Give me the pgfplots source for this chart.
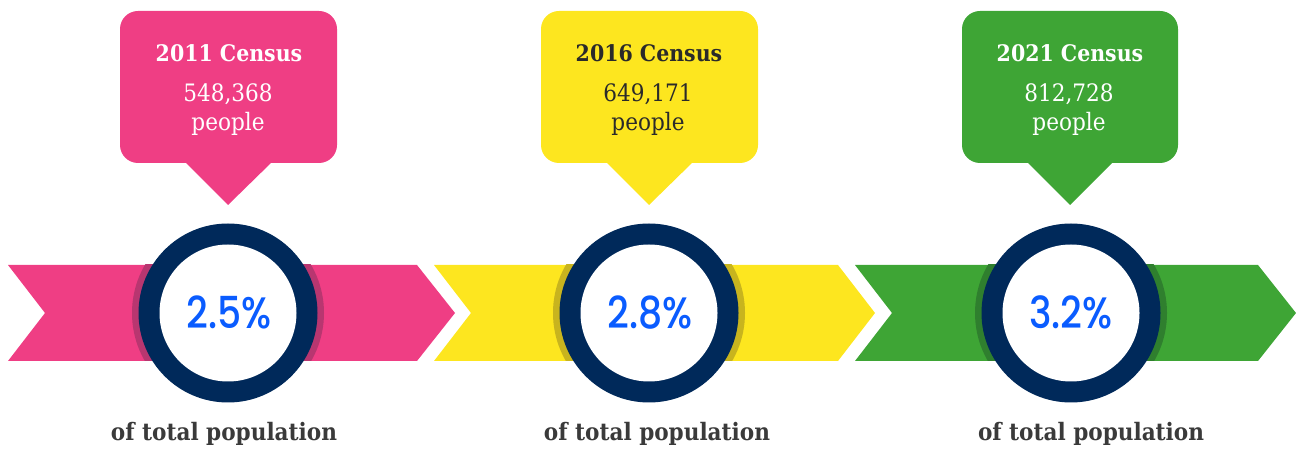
\documentclass[border=0pt]{standalone}
\usepackage{pgfplots}
\pgfplotsset{compat=1.18}
\usepackage{pgfplotstable}
\usepackage{fontspec}
\setmainfont{DejaVu Serif Condensed}
\newfontfamily\slab{DejaVu Serif Condensed}
\newfontfamily\pop{Poppins Medium}
\definecolor{cpink}{HTML}{EF3E84}
\definecolor{cpinkd}{HTML}{B83670}
\definecolor{cyel}{HTML}{FDE61F}
\definecolor{cyeld}{HTML}{C8B41E}
\definecolor{cgrn}{HTML}{3EA535}
\definecolor{cgrnd}{HTML}{2F7F2E}
\definecolor{cnavy}{HTML}{00295A}
\definecolor{cblue}{HTML}{0A5CFF}
\definecolor{cdark}{HTML}{2A2A2A}
\definecolor{cgray}{HTML}{3A3A3A}

\pgfplotstableread{
x    y    pct
229  329  2.5\%
650  329  2.8\%
1071 329  3.2\%
}\pcttable

\begin{document}
\begin{tikzpicture}
\begin{axis}[
  x=0.5pt, y=0.5pt, y dir=reverse,
  xmin=0, xmax=1296, ymin=0, ymax=448,
  hide axis, clip=false, enlargelimits=false,
]
\path (axis cs:0,0) rectangle (axis cs:1296,448);
% ---------- arrows ----------
\fill[cpink] (axis cs:8,265) -- (axis cs:417,265) -- (axis cs:455,313) -- (axis cs:417,361) -- (axis cs:8,361) -- (axis cs:45,313) -- cycle;
\fill[cyel] (axis cs:434,265) -- (axis cs:838,265) -- (axis cs:875,313) -- (axis cs:838,361) -- (axis cs:434,361) -- (axis cs:471,313) -- cycle;
\fill[cgrn] (axis cs:855,265) -- (axis cs:1258,265) -- (axis cs:1296,313) -- (axis cs:1258,361) -- (axis cs:855,361) -- (axis cs:892,313) -- cycle;
% ---------- shadows ----------
\begin{scope}
\clip (axis cs:8,265) rectangle (axis cs:1296,361);
\fill[cpinkd] (axis cs:228,313) circle[radius=48pt];
\fill[cyeld] (axis cs:649,313) circle[radius=48pt];
\fill[cgrnd] (axis cs:1071,313) circle[radius=48pt];
\end{scope}
% ---------- rings ----------
\pgfplotsinvokeforeach{228,649,1071}{
  \fill[cnavy] (axis cs:#1,313) circle[radius=44.75pt];
  \fill[white] (axis cs:#1,313) circle[radius=34.25pt];
}
% ---------- callouts ----------
\fill[cpink, rounded corners=9pt] (axis cs:120,11) rectangle (axis cs:337,163);
\fill[cpink] (axis cs:185,162) -- (axis cs:272,162) -- (axis cs:228,205) -- cycle;
\fill[cyel, rounded corners=9pt] (axis cs:541,11) rectangle (axis cs:758,163);
\fill[cyel] (axis cs:606,162) -- (axis cs:693,162) -- (axis cs:649,205) -- cycle;
\fill[cgrn, rounded corners=9pt] (axis cs:962,11) rectangle (axis cs:1178,163);
\fill[cgrn] (axis cs:1027,162) -- (axis cs:1113,162) -- (axis cs:1070,205) -- cycle;
% ---------- callout text ----------
\node[anchor=base, text=white, font=\slab\bfseries\fontsize{11.4}{14}\selectfont] at (axis cs:229,62) {2011 Census};
\node[anchor=base, text=white, font=\slab\fontsize{12}{14}\selectfont] at (axis cs:228,102) {548,368};
\node[anchor=base, text=white, font=\slab\fontsize{12}{14}\selectfont] at (axis cs:228,131) {people};
\node[anchor=base, text=cdark, font=\slab\bfseries\fontsize{11.4}{14}\selectfont] at (axis cs:649,62) {2016 Census};
\node[anchor=base, text=cdark, font=\slab\fontsize{12}{14}\selectfont] at (axis cs:648,102) {649,171};
\node[anchor=base, text=cdark, font=\slab\fontsize{12}{14}\selectfont] at (axis cs:648,131) {people};
\node[anchor=base, text=white, font=\slab\bfseries\fontsize{11.4}{14}\selectfont] at (axis cs:1070,62) {2021 Census};
\node[anchor=base, text=white, font=\slab\fontsize{12}{14}\selectfont] at (axis cs:1069,102) {812,728};
\node[anchor=base, text=white, font=\slab\fontsize{12}{14}\selectfont] at (axis cs:1069,131) {people};
% ---------- bottom text ----------
\pgfplotsinvokeforeach{224,657,1091}{
  \node[anchor=base, text=cgray, font=\slab\bfseries\fontsize{12}{14}\selectfont] at (axis cs:#1,441) {of total population};
}
% ---------- percentages ----------
\addplot[only marks, mark=none, point meta=explicit symbolic,
  nodes near coords={\scalebox{0.86}[1]{\pgfplotspointmeta}}, nodes near coords align={center},
  every node near coord/.style={anchor=base, text=cblue, inner sep=0pt,
    font=\pop\fontsize{22}{26}\selectfont}]
  table[x=x, y=y, meta=pct] {\pcttable};
\end{axis}
\end{tikzpicture}
\end{document}
